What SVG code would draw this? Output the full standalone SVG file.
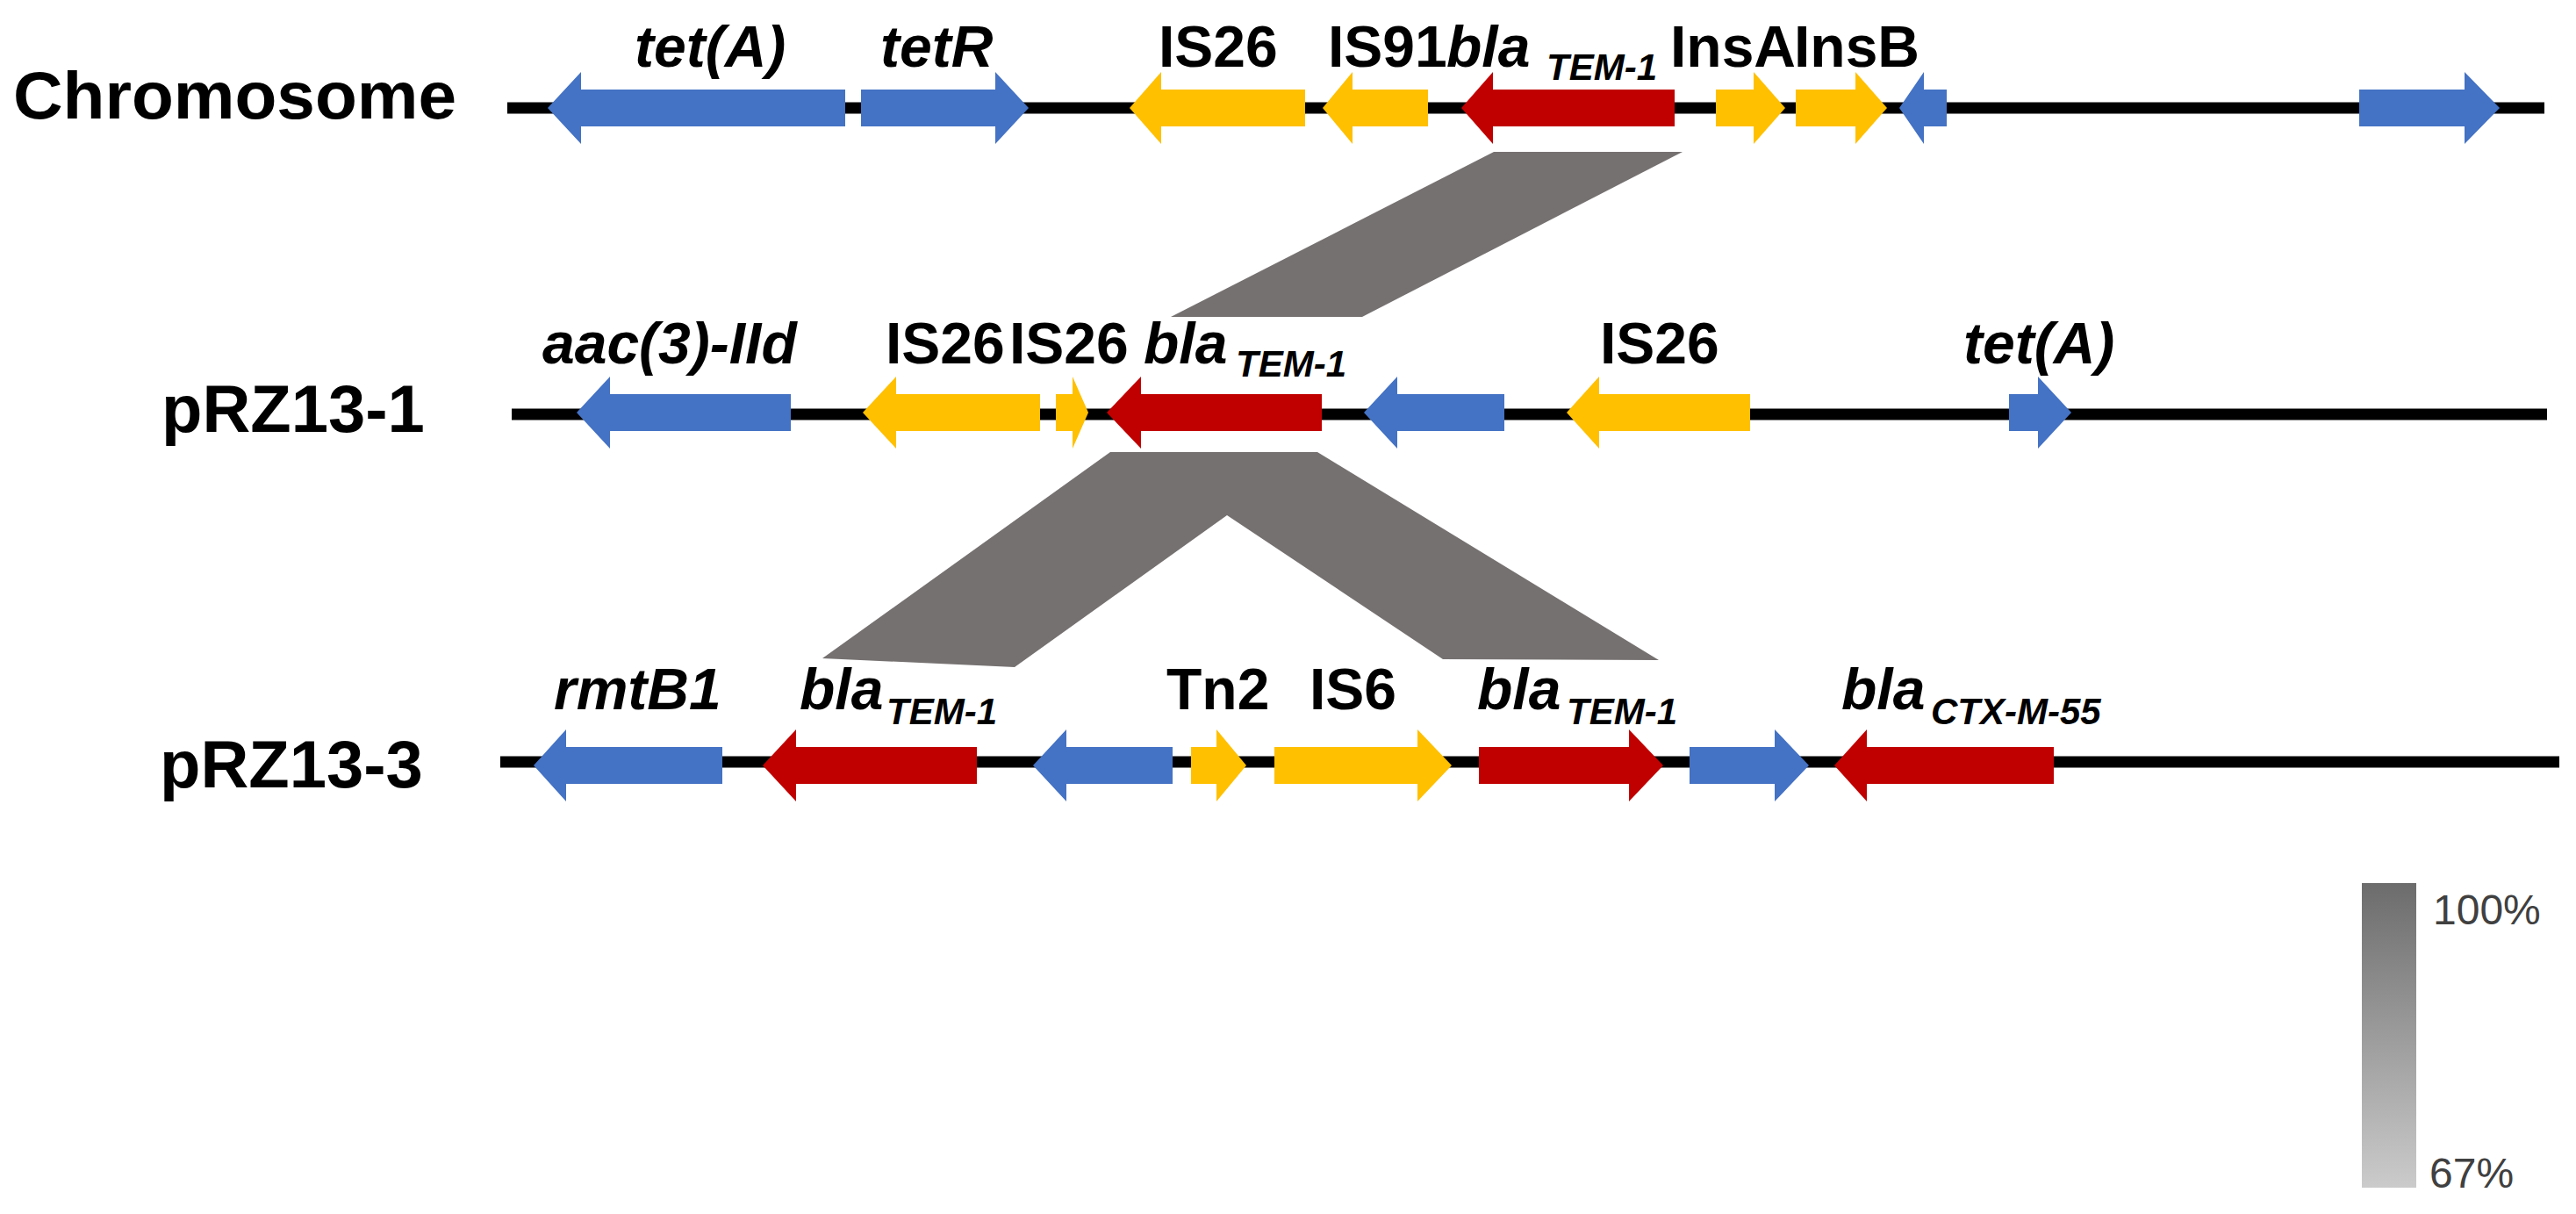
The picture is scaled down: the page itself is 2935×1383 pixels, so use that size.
<svg xmlns="http://www.w3.org/2000/svg" width="2935" height="1383" viewBox="0 0 2935 1383">
<style>
.trk{font-family:"Liberation Sans",Arial,sans-serif;font-weight:bold;font-size:76px;fill:#000}
.g{font-family:"Liberation Sans",Arial,sans-serif;font-weight:bold;font-size:66px;fill:#000}
.it{font-style:italic}
.sub{font-size:42px}
.bb{stroke:#000;stroke-width:13;fill:none}
.blue{fill:#4472C4}
.yel{fill:#FFC000}
.red{fill:#C00000}
.hom{fill:#767171}
.pct{font-family:"Liberation Sans",Arial,sans-serif;font-size:48px;fill:#404040}
</style>
<defs>
<linearGradient id="idg" x1="0" y1="0" x2="0" y2="1">
<stop offset="0" stop-color="#6c6c6c"/>
<stop offset="1" stop-color="#cbcbcb"/>
</linearGradient>
</defs>
<rect width="2935" height="1383" fill="#fff"/>

<g id="connectors">
<polygon class="hom" points="1702,173 1917,173 1552,361 1334,361"/>
<polygon class="hom" points="1265,515 1501,515 1890,752 1644,751 1398,587 1156,760 937,750"/>
</g>

<g id="backbones">
<line class="bb" x1="578" y1="123" x2="2899" y2="123"/>
<line class="bb" x1="583" y1="472" x2="2902" y2="472"/>
<line class="bb" x1="570" y1="868" x2="2916" y2="868"/>
</g>

<g id="track-labels">
<text id="lbl-chromosome" class="trk" x="15" y="135" textLength="505" lengthAdjust="spacingAndGlyphs">Chromosome</text>
<text id="lbl-prz13-1" class="trk" x="184" y="492">pRZ13-1</text>
<text id="lbl-prz13-3" class="trk" x="182" y="897">pRZ13-3</text>
</g>

<g id="chromosome">
<g id="c-tetA"><path class="blue" d="M624,123 L662,82 L662,102 L963,102 L963,144 L662,144 L662,164 Z"/><text class="g it" x="723" y="76">tet(A)</text></g>
<g id="c-tetR"><path class="blue" d="M981,102 L1134,102 L1134,82 L1172,123 L1134,164 L1134,144 L981,144 Z"/><text class="g it" x="1003" y="76">tetR</text></g>
<g id="c-IS26"><path class="yel" d="M1287,123 L1323,82 L1323,102 L1487,102 L1487,144 L1323,144 L1323,164 Z"/><text class="g" x="1320" y="76">IS26</text></g>
<g id="c-IS91"><path class="yel" d="M1507,123 L1541,82 L1541,102 L1627,102 L1627,144 L1541,144 L1541,164 Z"/><text class="g" x="1513" y="76">IS91</text></g>
<g id="c-blaTEM1"><path class="red" d="M1665,123 L1701,82 L1701,102 L1908,102 L1908,144 L1701,144 L1701,164 Z"/><text class="g it" x="1648" y="76">bla<tspan class="sub" x="1762" y="91">TEM-1</tspan></text></g>
<g id="c-InsA"><path class="yel" d="M1955,102 L1998,102 L1998,82 L2034,123 L1998,164 L1998,144 L1955,144 Z"/><text class="g" x="1903" y="76">InsA</text></g>
<g id="c-InsB"><path class="yel" d="M2046,102 L2114,102 L2114,82 L2150,123 L2114,164 L2114,144 L2046,144 Z"/><text class="g" x="2044" y="76">InsB</text></g>
<g id="c-orf1"><path class="blue" d="M2164,123 L2192,82 L2192,102 L2218,102 L2218,144 L2192,144 L2192,164 Z"/></g>
<g id="c-orf2"><path class="blue" d="M2688,102 L2808,102 L2808,82 L2848,123 L2808,164 L2808,144 L2688,144 Z"/></g>
</g>

<g id="prz13-1">
<g id="p1-aac"><path class="blue" d="M657,470 L695,429 L695,449 L901,449 L901,491 L695,491 L695,511 Z"/><text class="g it" x="618" y="414">aac(3)-IId</text></g>
<g id="p1-IS26a"><path class="yel" d="M983,470 L1021,429 L1021,449 L1185,449 L1185,491 L1021,491 L1021,511 Z"/><text class="g" x="1009" y="414">IS26</text></g>
<g id="p1-IS26b"><path class="yel" d="M1203,449 L1222,449 L1222,429 L1240,470 L1222,511 L1222,491 L1203,491 Z"/><text class="g" x="1150" y="414">IS26</text></g>
<g id="p1-blaTEM1"><path class="red" d="M1261,470 L1300,429 L1300,449 L1506,449 L1506,491 L1300,491 L1300,511 Z"/><text class="g it" x="1303" y="414">bla<tspan class="sub" x="1408" y="429">TEM-1</tspan></text></g>
<g id="p1-orf"><path class="blue" d="M1554,470 L1592,429 L1592,449 L1714,449 L1714,491 L1592,491 L1592,511 Z"/></g>
<g id="p1-IS26c"><path class="yel" d="M1785,470 L1822,429 L1822,449 L1994,449 L1994,491 L1822,491 L1822,511 Z"/><text class="g" x="1823" y="414">IS26</text></g>
<g id="p1-tetA"><path class="blue" d="M2289,449 L2322,449 L2322,429 L2360,470 L2322,511 L2322,491 L2289,491 Z"/><text class="g it" x="2237" y="414">tet(A)</text></g>
</g>

<g id="prz13-3">
<g id="p3-rmtB1"><path class="blue" d="M608,872 L645,831 L645,851 L823,851 L823,893 L645,893 L645,913 Z"/><text class="g it" x="631" y="808">rmtB1</text></g>
<g id="p3-blaTEM1a"><path class="red" d="M869,872 L907,831 L907,851 L1113,851 L1113,893 L907,893 L907,913 Z"/><text class="g it" x="911" y="808">bla<tspan class="sub" x="1010" y="825">TEM-1</tspan></text></g>
<g id="p3-orf1"><path class="blue" d="M1177,872 L1215,831 L1215,851 L1336,851 L1336,893 L1215,893 L1215,913 Z"/></g>
<g id="p3-Tn2"><path class="yel" d="M1357,851 L1386,851 L1386,831 L1420,872 L1386,913 L1386,893 L1357,893 Z"/><text class="g" x="1329" y="808">Tn2</text></g>
<g id="p3-IS6"><path class="yel" d="M1452,851 L1615,851 L1615,831 L1654,872 L1615,913 L1615,893 L1452,893 Z"/><text class="g" x="1492" y="808">IS6</text></g>
<g id="p3-blaTEM1b"><path class="red" d="M1685,851 L1856,851 L1856,831 L1895,872 L1856,913 L1856,893 L1685,893 Z"/><text class="g it" x="1683" y="808">bla<tspan class="sub" x="1785" y="825">TEM-1</tspan></text></g>
<g id="p3-orf2"><path class="blue" d="M1925,851 L2022,851 L2022,831 L2061,872 L2022,913 L2022,893 L1925,893 Z"/></g>
<g id="p3-blaCTX"><path class="red" d="M2090,872 L2127,831 L2127,851 L2340,851 L2340,893 L2127,893 L2127,913 Z"/><text class="g it" x="2098" y="808">bla<tspan class="sub" x="2200" y="825">CTX-M-55</tspan></text></g>
</g>

<g id="identity-legend">
<rect x="2691" y="1006" width="62" height="347" fill="url(#idg)"/>
<text class="pct" x="2772" y="1053">100%</text>
<text class="pct" x="2768" y="1353">67%</text>
</g>
</svg>
